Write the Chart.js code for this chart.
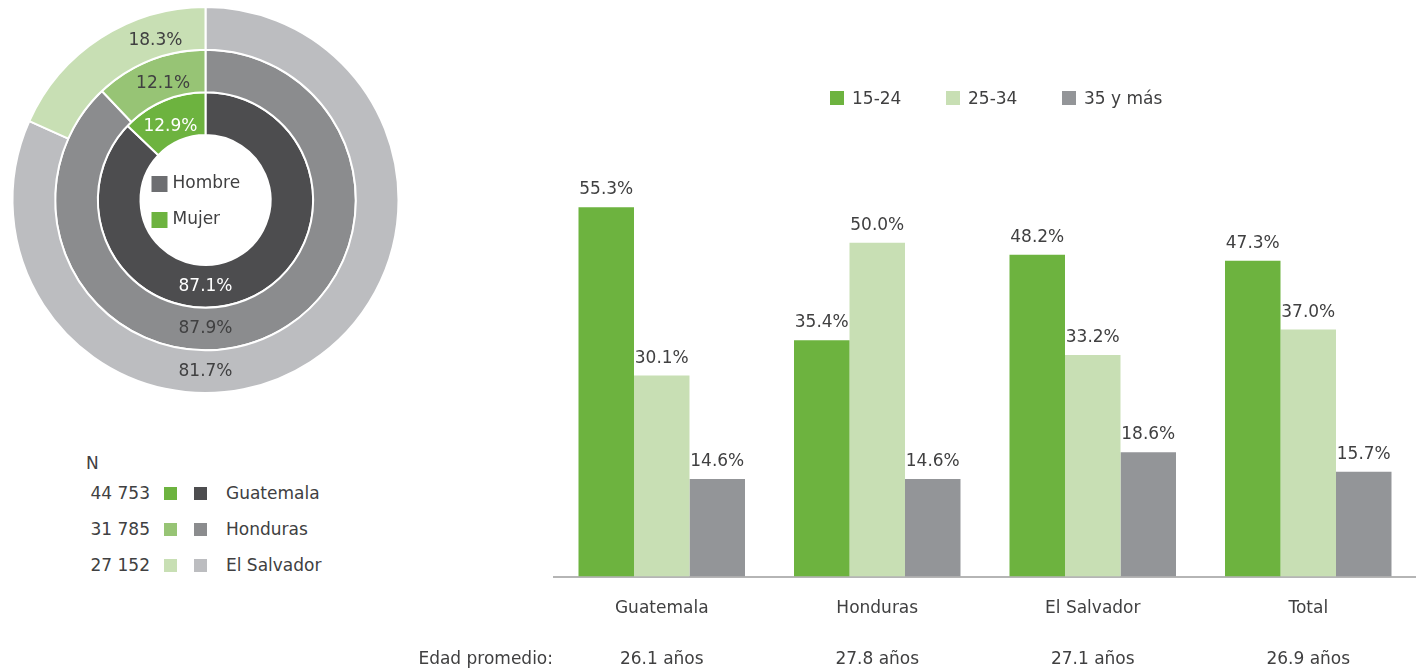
<!DOCTYPE html>
<html>
<head>
<meta charset="utf-8">
<script src="https://cdn.jsdelivr.net/npm/chart.js@4.4.1/dist/chart.umd.min.js"></script>
<style>
  body { margin: 0; background: #fff; font-family: "DejaVu Sans", sans-serif; color: #404041; }
  #wrap { position: relative; width: 1416px; height: 671px; overflow: hidden; }
  #pie { position: absolute; left: 0; top: 0; }
  #bars { position: absolute; left: 400px; top: 0; }
  #nlegend { position: absolute; left: 78px; top: 451px; font-size: 17px; }
  #nlegend .head { height: 24px; line-height: 24px; padding-left: 8px; }
  #nlegend .row { height: 36px; display: flex; align-items: center; }
  #nlegend .num { width: 72px; text-align: right; }
  #nlegend .sq { width: 13px; height: 13px; display: inline-block; }
  #barlegend { position: absolute; left: 830px; top: 86px; display: flex; font-size: 17px; }
  #barlegend .item { width: 116px; display: flex; align-items: center; height: 24px; }
  #barlegend .sq { width: 14px; height: 14px; margin-right: 8px; }
</style>
</head>
<body>
<div id="wrap">
  <canvas id="pie" width="411" height="400"></canvas>
  <canvas id="bars" width="1016" height="671"></canvas>
  <div id="nlegend"></div>
  <div id="barlegend"></div>
</div>
<script>
// --- doughnut data (Guatemala, Honduras, El Salvador) ---
const countries = ["Guatemala", "Honduras", "El Salvador"];
const nValues = ["44 753", "31 785", "27 152"];
const sexLabels = ["Hombre", "Mujer"];
const hombrePct = [87.1, 87.9, 81.7];
const mujerPct = [12.9, 12.1, 18.3];

// --- bar data ---
const barCategories = ["Guatemala", "Honduras", "El Salvador", "Total"];
const ageGroups = ["15-24", "25-34", "35 y más"];
const age15to24 = [55.3, 35.4, 48.2, 47.3];
const age25to34 = [30.1, 50.0, 33.2, 37.0];
const age35plus = [14.6, 14.6, 18.6, 15.7];
const edadPromedio = ["26.1 años", "27.8 años", "27.1 años", "26.9 años"];

const FONT = "DejaVu Sans";
const TEXT = "#404041";

// colours per country: [hombre, mujer]
const hombreColors = ["#4d4d4f", "#8b8c8e", "#bcbdc0"];
const mujerColors = ["#6db33f", "#97c475", "#c8dfb4"];
const ringText = ["#ffffff", TEXT, TEXT];
const mujerAngle = [-25.5, -20, -17.5];
const barColors = ["#6db33f", "#c8dfb4", "#939598"];

/* Doughnut: outer ring first, so reverse country order */
const ringOrder = [2, 1, 0];

const ringLabels = {
  id: "ringLabels",
  afterDatasetsDraw(chart) {
    const ctx = chart.ctx;
    ctx.save();
    ctx.font = "17px " + FONT;
    ctx.textAlign = "center";
    ctx.textBaseline = "middle";
    chart.data.datasets.forEach((ds, i) => {
      const c = ringOrder[i];
      const arc = chart.getDatasetMeta(i).data[0];
      const mid = (arc.innerRadius + arc.outerRadius) / 2;
      ctx.fillStyle = ringText[c];
      // Hombre at the bottom
      ctx.fillText(ds.data[0].toFixed(1) + "%", arc.x, arc.y + mid);
      // Mujer near the top-left
      const a = mujerAngle[c] * Math.PI / 180;
      const r = mid - 5;
      ctx.fillText(ds.data[1].toFixed(1) + "%", arc.x + r * Math.sin(a), arc.y - r * Math.cos(a));
    });
    // centre legend
    const x0 = chart.getDatasetMeta(0).data[0].x;
    const y0 = chart.getDatasetMeta(0).data[0].y;
    const sq = ["#6d6e71", "#6db33f"];
    const dy = [-16, 20];
    ctx.textAlign = "left";
    sexLabels.forEach((s, k) => {
      ctx.fillStyle = sq[k];
      ctx.fillRect(x0 - 54, y0 + dy[k] - 8, 16, 16);
      ctx.fillStyle = TEXT;
      ctx.fillText(s, x0 - 33, y0 + dy[k]);
    });
    ctx.restore();
  }
};

new Chart(document.getElementById("pie"), {
  type: "doughnut",
  data: {
    labels: sexLabels,
    datasets: ringOrder.map(c => ({
      label: countries[c],
      data: [hombrePct[c], mujerPct[c]],
      backgroundColor: [hombreColors[c], mujerColors[c]],
      borderColor: "#ffffff",
      borderWidth: 2
    }))
  },
  options: {
    responsive: false,
    animation: false,
    cutout: 65,
    layout: { padding: 6 },
    plugins: { legend: { display: false }, tooltip: { enabled: false } }
  },
  plugins: [ringLabels]
});

/* N legend */
const nl = document.getElementById("nlegend");
nl.innerHTML = '<div class="head">N</div>';
countries.forEach((c, i) => {
  nl.innerHTML += `
    <div class="row">
      <span class="num">${nValues[i]}</span>
      <span class="sq" style="background:${mujerColors[i]};margin-left:14px"></span>
      <span class="sq" style="background:${hombreColors[i]};margin-left:17px"></span>
      <span style="margin-left:19px">${c}</span>
    </div>`;
});

/* Bar legend */
const bl = document.getElementById("barlegend");
ageGroups.forEach((g, i) => {
  bl.innerHTML += `<div class="item"><span class="sq" style="background:${barColors[i]}"></span>${g}</div>`;
});

/* Bar value labels + "Edad promedio:" */
const TICK_PAD = 11;
const barLabels = {
  id: "barLabels",
  afterDatasetsDraw(chart) {
    const ctx = chart.ctx;
    ctx.save();
    ctx.font = "17px " + FONT;
    ctx.fillStyle = TEXT;
    ctx.textAlign = "center";
    ctx.textBaseline = "alphabetic";
    chart.data.datasets.forEach((ds, i) => {
      chart.getDatasetMeta(i).data.forEach((bar, j) => {
        ctx.fillText(ds.data[j].toFixed(1) + "%", bar.x, bar.y - 13);
      });
    });
    ctx.textAlign = "right";
    ctx.textBaseline = "middle";
    ctx.fillText("Edad promedio:", chart.chartArea.left - 1, chart.chartArea.bottom + TICK_PAD + 72);
    ctx.restore();
  }
};

const seriesValues = [age15to24, age25to34, age35plus];

new Chart(document.getElementById("bars"), {
  type: "bar",
  data: {
    labels: barCategories.map((c, i) => [c, "", edadPromedio[i]]),
    datasets: ageGroups.map((g, i) => ({
      label: g,
      data: seriesValues[i],
      backgroundColor: barColors[i],
      categoryPercentage: 0.7726,
      barPercentage: 1
    }))
  },
  options: {
    responsive: false,
    animation: false,
    layout: { padding: { left: 154, right: 0, top: 176, bottom: -12 } },
    plugins: { legend: { display: false }, tooltip: { enabled: false } },
    scales: {
      x: {
        grid: { display: false },
        border: { display: true, color: "#b5b5b5", width: 2 },
        ticks: {
          color: TEXT,
          padding: TICK_PAD,
          maxRotation: 0,
          font: { family: FONT, size: 17, lineHeight: 1.5 }
        }
      },
      y: { display: false, min: 0, max: 60 }
    }
  },
  plugins: [barLabels]
});
</script>
</body>
</html>
